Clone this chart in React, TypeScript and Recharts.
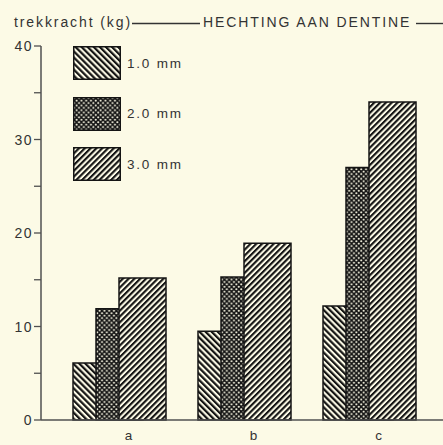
import React from 'react';
import { ComposedChart, Bar, XAxis, YAxis, Legend } from 'recharts';

const categories = ['a', 'b', 'c'];
const series1mm = [6.1, 9.5, 12.2];
const series2mm = [11.9, 15.3, 27.0];
const series3mm = [15.2, 18.9, 34.0];
const yTicks = [0, 5, 10, 15, 20, 25, 30, 35, 40];
const seriesNames = ['1.0 mm', '2.0 mm', '3.0 mm'];
const titleLeft = 'trekkracht (kg)';
const titleRight = 'HECHTING AAN DENTINE';

const data = categories.map((c, i) => ({
  cat: c,
  s1: series1mm[i],
  s2: series2mm[i],
  s3: series3mm[i],
}));

const BG = '#fcfae6';
const INK = '#141414';
const AXIS = '#505050';
const TEXT = '#333333';
const FONT = '"Liberation Sans", Arial, Helvetica, sans-serif';

const patternIds = ['pat1', 'pat2', 'pat3'];

const Patterns = () => (
  <svg width={0} height={0} style={{ position: 'absolute' }}>
    <defs>
      <pattern id="pat1" width={4.3} height={4.3} patternUnits="userSpaceOnUse" patternTransform="rotate(-45)">
        <rect width={4.3} height={4.3} fill={BG} />
        <rect width={2.2} height={4.3} fill={INK} />
      </pattern>
      <pattern id="pat2" width={4.8} height={4.8} patternUnits="userSpaceOnUse">
        <rect width={4.8} height={4.8} fill={INK} />
        <circle cx={1.2} cy={1.2} r={1.05} fill={BG} />
        <circle cx={3.6} cy={3.6} r={1.05} fill={BG} />
      </pattern>
      <pattern id="pat3" width={4.1} height={4.1} patternUnits="userSpaceOnUse" patternTransform="rotate(45)">
        <rect width={4.1} height={4.1} fill={BG} />
        <rect width={2.1} height={4.1} fill={INK} />
      </pattern>
    </defs>
  </svg>
);

const YTick = (props: any) => {
  const { x, y, payload } = props;
  if (payload.value % 10 !== 0) return null;
  return (
    <text x={x + 1} y={y} dy="0.36em" textAnchor="end" fill={TEXT} fontSize={14} letterSpacing={1.5} fontFamily={FONT}>
      {payload.value}
    </text>
  );
};

const XTick = (props: any) => {
  const { x, y, payload } = props;
  return (
    <text x={x + 9} y={y + 12} textAnchor="middle" fill={TEXT} fontSize={13.5} fontFamily={FONT}>
      {payload.value}
    </text>
  );
};

const LegendContent = () => (
  <div style={{ fontFamily: FONT }}>
    {seriesNames.map((n, i) => (
      <div key={n} style={{ display: 'flex', alignItems: 'center', height: 34, marginBottom: i < 2 ? 16.5 : 0 }}>
        <svg width={48} height={34} style={{ display: 'block' }}>
          <rect x={0.75} y={0.75} width={46.5} height={32.5} fill={`url(#${patternIds[i]})`} stroke={INK} strokeWidth={1.5} />
        </svg>
        <span style={{ marginLeft: 6, fontSize: 13.5, letterSpacing: 1.8, color: TEXT, whiteSpace: 'nowrap' }}>{n}</span>
      </div>
    ))}
  </div>
);

export default function App() {
  return (
    <div style={{ position: 'fixed', left: 0, top: 0, width: 443, height: 445, background: BG, overflow: 'hidden' }}>
      <Patterns />
      <svg width={443} height={40} style={{ position: 'absolute', left: 0, top: 0 }}>
        <text x={14} y={27} fill={TEXT} fontSize={14} letterSpacing={1.9} fontFamily={FONT}>{titleLeft}</text>
        <line x1={132} y1={23.5} x2={200} y2={23.5} stroke={TEXT} strokeWidth={1.4} />
        <text x={203} y={27} fill={TEXT} fontSize={14} letterSpacing={1.9} fontFamily={FONT}>{titleRight}</text>
        <line x1={416} y1={23.5} x2={443} y2={23.5} stroke={TEXT} strokeWidth={1.4} />
      </svg>
      <ComposedChart
        width={443}
        height={445}
        data={data}
        margin={{ top: 46, right: 0, bottom: 0, left: 0 }}
        barGap={-24}
        barCategoryGap={0}
        style={{ position: 'absolute', left: 0, top: 0 }}
      >
        <XAxis
          dataKey="cat"
          height={25}
          padding={{ left: 16, right: 11 }}
          tickLine={false}
          axisLine={{ stroke: AXIS, strokeWidth: 1.5 }}
          tick={<XTick />}
          interval={0}
        />
        <YAxis
          width={41}
          domain={[0, 40]}
          ticks={yTicks}
          interval={0}
          tickSize={7}
          tickLine={{ stroke: AXIS, strokeWidth: 1.3 }}
          axisLine={{ stroke: AXIS, strokeWidth: 1.5 }}
          tick={<YTick />}
        />
        <Legend
          layout="horizontal"
          verticalAlign="middle"
          align="center"
          content={<LegendContent />}
          wrapperStyle={{ position: 'absolute', left: 73, top: 46, width: 'auto', height: 'auto' }}
        />
        <Bar dataKey="s1" name={seriesNames[0]} barSize={47} fill="url(#pat1)" stroke={INK} strokeWidth={1.5} isAnimationActive={false} />
        <Bar dataKey="s2" name={seriesNames[1]} barSize={47} fill="url(#pat2)" stroke={INK} strokeWidth={1.5} isAnimationActive={false} />
        <Bar dataKey="s3" name={seriesNames[2]} barSize={47} fill="url(#pat3)" stroke={INK} strokeWidth={1.5} isAnimationActive={false} />
      </ComposedChart>
    </div>
  );
}
